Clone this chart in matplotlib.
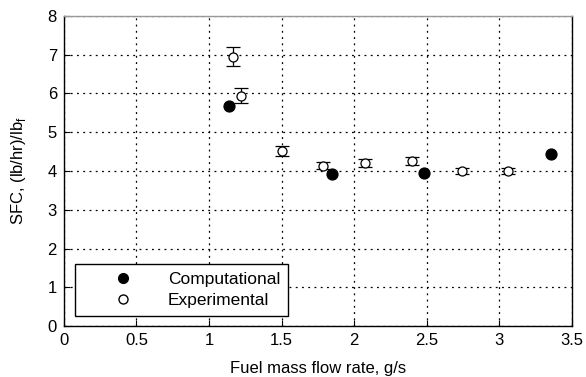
import numpy as np
import matplotlib
matplotlib.use('Agg')
import matplotlib.pyplot as plt
from matplotlib.lines import Line2D

plt.rcParams['font.family'] = ['Liberation Sans', 'DejaVu Sans']
plt.rcParams['mathtext.fontset'] = 'custom'
plt.rcParams['mathtext.rm'] = 'Liberation Sans'

# computational results
comp_x = [1.14, 1.85, 2.48, 3.355]
comp_y = [5.68, 3.92, 3.94, 4.43]

# experimental results with error bars
exp_x = [1.164, 1.217, 1.503, 1.786, 2.073, 2.399, 2.743, 3.062]
exp_y = [6.95, 5.94, 4.52, 4.14, 4.20, 4.25, 4.00, 4.00]
exp_err = [0.25, 0.20, 0.125, 0.10, 0.10, 0.10, 0.07, 0.07]

fig = plt.figure(figsize=(5.86, 3.77), dpi=100)
ax = fig.add_axes([0.109, 0.135, 0.867, 0.823])

ax.plot(comp_x, comp_y, 'o', color='black', markersize=7.8, zorder=3)
ax.errorbar(exp_x, exp_y, yerr=exp_err, fmt='o', mfc='white', mec='black', ecolor='black',
            markersize=6.5, capsize=5, elinewidth=0.9, capthick=0.9, mew=0.9, zorder=3)

ax.set_xlim(0, 3.5)
ax.set_ylim(0, 8)
ax.set_xticks(np.arange(0, 3.51, 0.5))
ax.set_xticklabels(['0', '0.5', '1', '1.5', '2', '2.5', '3', '3.5'])
ax.set_yticks(range(0, 9))
ax.grid(True, color='black', linestyle=(0, (1.5, 3.5)), linewidth=0.9)
ax.tick_params(direction='in', labelsize=12, length=4, pad=5)
for s in ax.spines.values():
    s.set_linewidth(1.0)
ax.spines['top'].set_color('#999999')

ax.set_xlabel('Fuel mass flow rate, g/s', fontsize=12, labelpad=9)
ax.set_ylabel('SFC, (lb/hr)/lb$_\\mathregular{f}$', fontsize=12, labelpad=14)

h1 = Line2D([], [], marker='o', ls='', color='black', markersize=7)
h2 = Line2D([], [], marker='o', ls='', mfc='white', mec='black', markersize=6.5)
leg = ax.legend([h1, h2], ['Computational', 'Experimental'], loc='lower left',
                bbox_to_anchor=(0.022, 0.032), fontsize=12.5, fancybox=False,
                edgecolor='black', framealpha=1, handletextpad=0.3, borderpad=0.45,
                labelspacing=0.35, handlelength=4.6, borderaxespad=0)
leg.get_frame().set_linewidth(1.0)

fig.savefig('out.png', dpi=100)
